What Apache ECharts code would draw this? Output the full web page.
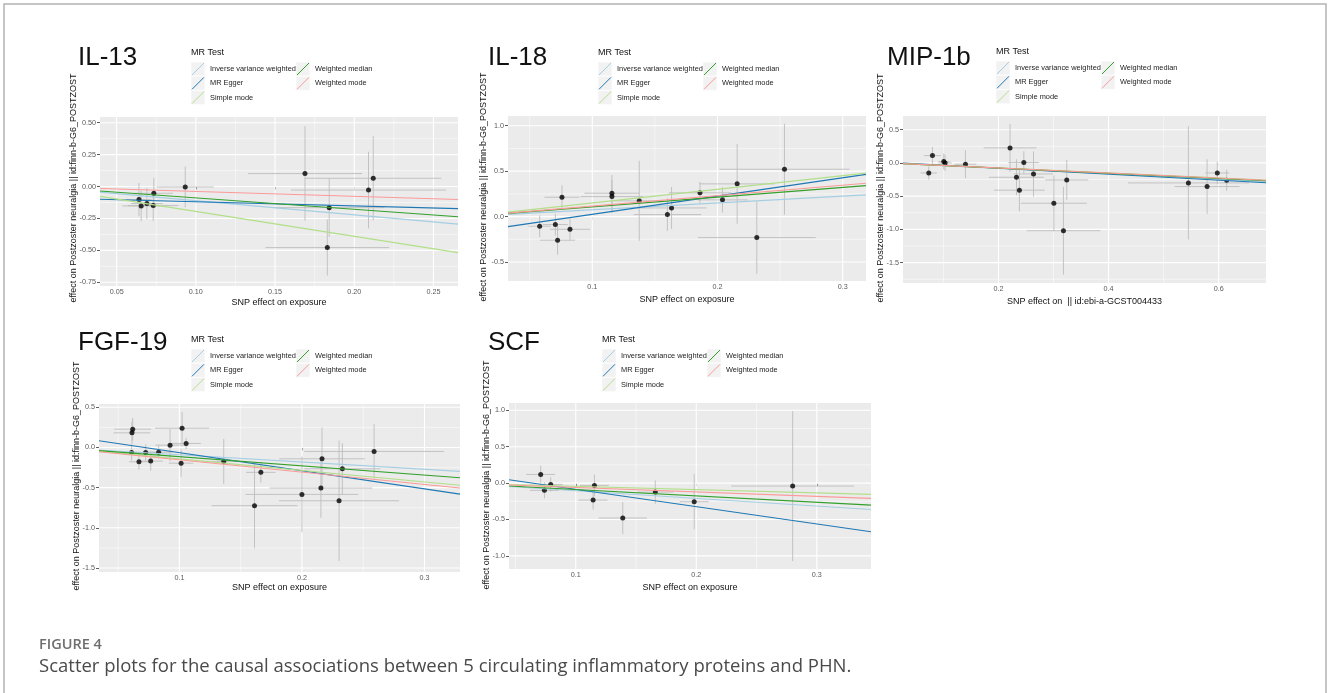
<!DOCTYPE html>
<html><head><meta charset="utf-8">
<script src="https://cdn.jsdelivr.net/npm/echarts@6/dist/echarts.min.js"></script>
<style>html,body{margin:0;padding:0;background:#fff;}#c{width:1328px;height:693px;}</style>
</head><body><div id="c"></div>
<script>
// ---------- shared text ----------
const methods = ['Inverse variance weighted','MR Egger','Simple mode','Weighted median','Weighted mode'];
const methodColors = ['#a6cee3','#1f78b4','#b2df8a','#33a02c','#fb9a99'];
const legendTitle = 'MR Test';
const panelNames = ['IL-13','IL-18','MIP-1b','FGF-19','SCF'];
const xTitles = ['SNP effect on exposure','SNP effect on exposure','SNP effect on  || id:ebi-a-GCST004433','SNP effect on exposure','SNP effect on exposure'];
const yTitle = 'effect on Postzoster neuralgia || id:finn-b-G6_POSTZOST';
const figLabel = 'FIGURE 4';
const figCaption = 'Scatter plots for the causal associations between 5 circulating inflammatory proteins and PHN.';

// ---------- IL-13 ----------
const il13X   = [0.0641,0.0655,0.0691,0.0731,0.0735,0.0933,0.1689,0.1842,0.1830,0.2090,0.2120];
const il13Y   = [-0.102,-0.152,-0.133,-0.149,-0.0525,-0.003,0.102,-0.165,-0.478,-0.027,0.065];
const il13SeX = [0.008,0.012,0.010,0.016,0.012,0.018,0.036,0.035,0.039,0.049,0.043];
const il13SeY = [0.13,0.12,0.12,0.12,0.12,0.16,0.37,0.23,0.22,0.30,0.33];
const il13Slope = [-1.107,-0.324,-1.95,-0.89,-0.38];
const il13Intercept = [0,-0.087,0,0,0];
const il13XRange = [0.0395,0.2655];
const il13YRange = [-0.779,0.545];
const il13XTicks = [0.05,0.10,0.15,0.20,0.25];
const il13XTickLabels = ['0.05','0.10','0.15','0.20','0.25'];
const il13YTicks = [-0.75,-0.50,-0.25,0,0.25,0.50];
const il13YTickLabels = ['-0.75','-0.50','-0.25','0.00','0.25','0.50'];

// ---------- IL-18 ----------
const il18X   = [0.058,0.0705,0.0723,0.0758,0.0822,0.1157,0.1157,0.1375,0.160,0.1633,0.186,0.204,0.2157,0.2314,0.2535];
const il18Y   = [-0.106,-0.088,-0.26,0.213,-0.14,0.257,0.22,0.173,0.022,0.095,0.261,0.184,0.36,-0.231,0.521];
const il18SeX = [0.009,0.010,0.014,0.014,0.016,0.022,0.025,0.020,0.027,0.028,0.025,0.020,0.030,0.047,0.052];
const il18SeY = [0.12,0.12,0.16,0.13,0.12,0.20,0.18,0.44,0.18,0.23,0.12,0.14,0.44,0.40,0.50];
const il18Slope = [0.75,2.01,1.5,1.07,1.15];
const il18Intercept = [0,-0.176,0,0,0];
const il18XRange = [0.0327,0.3186];
const il18YRange = [-0.709,1.107];
const il18XTicks = [0.1,0.2,0.3];
const il18XTickLabels = ['0.1','0.2','0.3'];
const il18YTicks = [-0.5,0,0.5,1.0];
const il18YTickLabels = ['-0.5','0.0','0.5','1.0'];

// ---------- MIP-1b ----------
const mipX   = [0.0733,0.080,0.1006,0.103,0.14,0.221,0.246,0.2327,0.238,0.2636,0.3006,0.318,0.324,0.545,0.579,0.5975,0.6145];
const mipY   = [-0.151,0.110,0.02,0.0,-0.02,0.226,0.005,-0.216,-0.41,-0.166,-0.607,-1.02,-0.256,-0.301,-0.356,-0.151,-0.261];
const mipSeX = [0.015,0.015,0.010,0.012,0.020,0.048,0.028,0.050,0.046,0.036,0.060,0.067,0.039,0.110,0.059,0.022,0.020];
const mipSeY = [0.10,0.13,0.12,0.12,0.21,0.36,0.17,0.27,0.32,0.34,0.42,0.66,0.30,0.85,0.41,0.17,0.16];
const mipSlope = [-0.41,-0.45,-0.375,-0.39,-0.38];
const mipIntercept = [0,0.01,0,0,0];
const mipXRange = [0.0265,0.686];
const mipYRange = [-1.807,0.706];
const mipXTicks = [0.2,0.4,0.6];
const mipXTickLabels = ['0.2','0.4','0.6'];
const mipYTicks = [-1.5,-1.0,-0.5,0,0.5];
const mipYTickLabels = ['-1.5','-1.0','-0.5','0.0','0.5'];

// ---------- FGF-19 ----------
const fgfX   = [0.0619,0.0613,0.061,0.067,0.0725,0.0766,0.0831,0.0924,0.1022,0.1014,0.1055,0.1362,0.1613,0.1665,0.200,0.2155,0.2164,0.2303,0.233,0.2589];
const fgfY   = [0.228,0.182,-0.062,-0.178,-0.062,-0.17,-0.058,0.029,0.24,-0.195,0.05,-0.174,-0.725,-0.31,-0.584,-0.505,-0.141,-0.663,-0.265,-0.05];
const fgfSeX = [0.015,0.015,0.008,0.008,0.010,0.010,0.012,0.012,0.022,0.010,0.012,0.018,0.035,0.012,0.046,0.042,0.035,0.049,0.031,0.057];
const fgfSeY = [0.14,0.14,0.10,0.10,0.10,0.12,0.08,0.20,0.20,0.17,0.07,0.28,0.53,0.13,0.47,0.37,0.39,0.75,0.32,0.34];
const fgfSlope = [-0.906,-2.25,-1.43,-1.146,-1.535];
const fgfIntercept = [0,0.16,0,0,0];
const fgfXRange = [0.0344,0.329];
const fgfYRange = [-1.55,0.541];
const fgfXTicks = [0.1,0.2,0.3];
const fgfXTickLabels = ['0.1','0.2','0.3'];
const fgfYTicks = [-1.5,-1.0,-0.5,0,0.5];
const fgfYTickLabels = ['-1.5','-1.0','-0.5','0.0','0.5'];

// ---------- SCF ----------
const scfX   = [0.0709,0.074,0.0792,0.1144,0.1155,0.139,0.166,0.1983,0.280];
const scfY   = [0.119,-0.10,-0.018,-0.233,-0.032,-0.48,-0.124,-0.256,-0.041];
const scfSeX = [0.012,0.012,0.010,0.012,0.012,0.020,0.015,0.012,0.051];
const scfSeY = [0.12,0.11,0.10,0.13,0.15,0.22,0.16,0.38,1.03];
const scfSlope = [-1.05,-2.377,-0.45,-0.876,-0.61];
const scfIntercept = [0,0.152,0,0,0];
const scfXRange = [0.0446,0.345];
const scfYRange = [-1.18,1.10];
const scfXTicks = [0.1,0.2,0.3];
const scfXTickLabels = ['0.1','0.2','0.3'];
const scfYTicks = [-1.0,-0.5,0,0.5,1.0];
const scfYTickLabels = ['-1.0','-0.5','0.0','0.5','1.0'];

// ---------- assemble ----------
const panels = [
  {x:il13X,y:il13Y,sx:il13SeX,sy:il13SeY,b:il13Slope,a:il13Intercept,xr:il13XRange,yr:il13YRange,xt:il13XTicks,xl:il13XTickLabels,yt:il13YTicks,yl:il13YTickLabels},
  {x:il18X,y:il18Y,sx:il18SeX,sy:il18SeY,b:il18Slope,a:il18Intercept,xr:il18XRange,yr:il18YRange,xt:il18XTicks,xl:il18XTickLabels,yt:il18YTicks,yl:il18YTickLabels},
  {x:mipX,y:mipY,sx:mipSeX,sy:mipSeY,b:mipSlope,a:mipIntercept,xr:mipXRange,yr:mipYRange,xt:mipXTicks,xl:mipXTickLabels,yt:mipYTicks,yl:mipYTickLabels},
  {x:fgfX,y:fgfY,sx:fgfSeX,sy:fgfSeY,b:fgfSlope,a:fgfIntercept,xr:fgfXRange,yr:fgfYRange,xt:fgfXTicks,xl:fgfXTickLabels,yt:fgfYTicks,yl:fgfYTickLabels},
  {x:scfX,y:scfY,sx:scfSeX,sy:scfSeY,b:scfSlope,a:scfIntercept,xr:scfXRange,yr:scfYRange,xt:scfXTicks,xl:scfXTickLabels,yt:scfYTicks,yl:scfYTickLabels}
];

// layout (pixels)
const layout = [
  {grid:{left:100,top:117,width:358,height:169}, title:[78,58], legend:[191,53], ytitle:[74,188], nameGap:12.5},
  {grid:{left:508,top:116,width:358,height:165}, title:[488,58], legend:[598,53], ytitle:[484,187], nameGap:14},
  {grid:{left:903,top:116,width:363,height:167}, title:[887,58], legend:[996,52], ytitle:[881,188], nameGap:14},
  {grid:{left:99,top:404,width:361,height:168}, title:[78,343], legend:[191,340], ytitle:[77,476], nameGap:11.5},
  {grid:{left:509,top:403,width:362,height:166}, title:[488,343], legend:[602,340], ytitle:[487,475], nameGap:14}
];

const FONT = '"Liberation Sans", Arial, sans-serif';

function minorVals(ticks, range){
  const out=[]; const step = ticks[1]-ticks[0];
  const mids = [ticks[0]-step/2];
  for(let i=0;i<ticks.length-1;i++) mids.push((ticks[i]+ticks[i+1])/2);
  mids.push(ticks[ticks.length-1]+step/2);
  mids.forEach(v=>{ if(v>range[0] && v<range[1]) out.push(v); });
  return out;
}
function labelFmt(ticks, labels){
  return function(v){ for(let i=0;i<ticks.length;i++){ if(Math.abs(ticks[i]-v)<1e-9) return labels[i]; } return ''; };
}

const grids=[], xAxes=[], yAxes=[], series=[], graphics=[];

graphics.push({type:'rect', shape:{x:4,y:4,width:1322,height:720}, style:{fill:null, stroke:'#b3b3b3', lineWidth:1.5}, silent:true, z:-10});

panels.forEach((p,i)=>{
  const L = layout[i];
  grids.push(Object.assign({show:true, backgroundColor:'#ebebeb', borderWidth:0, containLabel:false}, L.grid));
  xAxes.push({
    type:'value', gridIndex:i, min:p.xr[0], max:p.xr[1],
    name: xTitles[i], nameLocation:'middle', nameGap:L.nameGap,
    nameTextStyle:{fontFamily:FONT, fontSize:9, color:'#111'},
    axisLine:{show:false},
    axisTick:{show:true, length:3, lineStyle:{color:'#333', width:0.8}, customValues:p.xt},
    axisLabel:{show:true, margin:3, fontFamily:FONT, fontSize:7.2, color:'#595959', customValues:p.xt, formatter:labelFmt(p.xt,p.xl)},
    splitLine:{show:false}
  });
  yAxes.push({
    type:'value', gridIndex:i, min:p.yr[0], max:p.yr[1],
    axisLine:{show:false},
    axisTick:{show:true, length:3, lineStyle:{color:'#333', width:0.8}, customValues:p.yt},
    axisLabel:{show:true, margin:4, fontFamily:FONT, fontSize:7.2, color:'#595959', customValues:p.yt, formatter:labelFmt(p.yt,p.yl)},
    splitLine:{show:false}
  });

  // panel grid lines (major & minor) through the axes' scales
  const gl = [];
  minorVals(p.xt,p.xr).forEach(v=>gl.push([v,p.yr[0],0,0.5]));
  minorVals(p.yt,p.yr).forEach(v=>gl.push([p.xr[0],v,1,0.5]));
  p.xt.forEach(v=>gl.push([v,p.yr[0],0,1.1]));
  p.yt.forEach(v=>gl.push([p.xr[0],v,1,1.1]));
  series.push({
    type:'custom', xAxisIndex:i, yAxisIndex:i, silent:true, z:1, animation:false,
    data: gl,
    renderItem:function(params, api){
      const cs = params.coordSys;
      const w = api.value(3);
      if(api.value(2)===0){
        const px = api.coord([api.value(0), p.yr[0]])[0];
        return {type:'line', shape:{x1:px,y1:cs.y,x2:px,y2:cs.y+cs.height}, style:{stroke:'#ffffff', lineWidth:w}};
      } else {
        const py = api.coord([p.xr[0], api.value(1)])[1];
        return {type:'line', shape:{x1:cs.x,y1:py,x2:cs.x+cs.width,y2:py}, style:{stroke:'#ffffff', lineWidth:w}};
      }
    }
  });

  // error bars
  series.push({
    type:'custom', xAxisIndex:i, yAxisIndex:i, silent:true, z:2, clip:true, animation:false,
    data: p.x.map((v,k)=>[v,p.y[k],p.sx[k],p.sy[k]]),
    renderItem:function(params, api){
      const x=api.value(0), y=api.value(1), sx=api.value(2), sy=api.value(3);
      const h1=api.coord([x-sx,y]), h2=api.coord([x+sx,y]);
      const v1=api.coord([x,y-sy]), v2=api.coord([x,y+sy]);
      const st={stroke:'#bdbdbd', lineWidth:0.9};
      return {type:'group', children:[
        {type:'line', shape:{x1:v1[0],y1:v1[1],x2:v2[0],y2:v2[1]}, style:st},
        {type:'line', shape:{x1:h1[0],y1:h1[1],x2:h2[0],y2:h2[1]}, style:st}
      ]};
    }
  });

  // points
  series.push({
    type:'scatter', xAxisIndex:i, yAxisIndex:i, z:3, silent:true, animation:false,
    symbol:'circle', symbolSize:5, itemStyle:{color:'#000'},
    data: p.x.map((v,k)=>[v,p.y[k]])
  });

  // MR fit lines
  methods.forEach((m,j)=>{
    series.push({
      type:'line', name:m, xAxisIndex:i, yAxisIndex:i, z:4, silent:true, animation:false,
      symbol:'none', lineStyle:{color:methodColors[j], width:1.1},
      data: p.xr.map(xv=>[xv, p.a[j]+p.b[j]*xv])
    });
  });

  // panel title
  graphics.push({type:'text', z:5, x:L.title[0], y:L.title[1], style:{text:panelNames[i], font:'26px '+FONT, fill:'#111', textVerticalAlign:'middle'}, silent:true});
  // y axis title
  graphics.push({type:'text', z:5, x:L.ytitle[0], y:L.ytitle[1], rotation:Math.PI/2, style:{text:yTitle, font:'9px '+FONT, fill:'#111', textAlign:'center', textVerticalAlign:'middle'}, silent:true});

  // legend
  const lx=L.legend[0], ly=L.legend[1];
  graphics.push({type:'text', z:5, x:lx, y:ly, style:{text:legendTitle, font:'9px '+FONT, fill:'#111', textVerticalAlign:'middle'}, silent:true});
  methods.forEach((m,j)=>{
    const col = j<3?0:1, row = j<3?j:j-3;
    const kx = lx + col*105, ky = ly + 16 + row*14.3;
    graphics.push({type:'rect', z:3, shape:{x:kx,y:ky-7,width:14,height:14}, style:{fill:'#f2f2f2', stroke:'#ffffff', lineWidth:0.6}, silent:true});
    graphics.push({type:'line', z:4, shape:{x1:kx+1,y1:ky+6,x2:kx+13,y2:ky-6}, style:{stroke:methodColors[j], lineWidth:1}, silent:true});
    graphics.push({type:'text', z:6, x:kx+19, y:ky, style:{text:m, font:'7.4px '+FONT, fill:'#222', textVerticalAlign:'middle'}, silent:true});
  });
});

// caption
graphics.push({type:'text', z:5, x:39, y:645, style:{text:figLabel, font:'600 14.5px "Open Sans", sans-serif', fill:'#6e6e6e', textVerticalAlign:'middle'}, silent:true});
graphics.push({type:'text', z:5, x:39, y:667, style:{text:figCaption, font:'400 18.5px "Open Sans", sans-serif', fill:'#4a4a4a', textVerticalAlign:'middle'}, silent:true});

const chart = echarts.init(document.getElementById('c'), null, {renderer:'canvas'});
chart.setOption({
  animation:false,
  backgroundColor:'#ffffff',
  grid:grids, xAxis:xAxes, yAxis:yAxes, series:series,
  graphic:{elements:graphics}
});
</script>
</body></html>
